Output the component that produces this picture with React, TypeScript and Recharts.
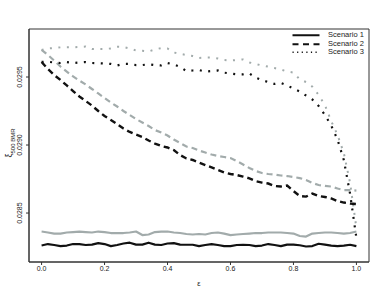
import React from "react";
import { LineChart, Line, XAxis, YAxis, ReferenceArea } from "recharts";

const eps = [0, 0.02, 0.04, 0.06, 0.08, 0.1, 0.12, 0.14, 0.16, 0.18, 0.2, 0.22, 0.24, 0.26, 0.28, 0.3, 0.32, 0.34, 0.36, 0.38, 0.4, 0.42, 0.44, 0.46, 0.48, 0.5, 0.52, 0.54, 0.56, 0.58, 0.6, 0.62, 0.64, 0.66, 0.68, 0.7, 0.72, 0.74, 0.76, 0.78, 0.8, 0.82, 0.84, 0.86, 0.88, 0.9, 0.92, 0.94, 0.96, 0.98, 1.0];

const s1Black = [0.028261, 0.028272, 0.028265, 0.028257, 0.028261, 0.028272, 0.028272, 0.028265, 0.028268, 0.028279, 0.028272, 0.028257, 0.028265, 0.028276, 0.028282, 0.028268, 0.028268, 0.028282, 0.028268, 0.028265, 0.028276, 0.028279, 0.028268, 0.028267, 0.028267, 0.028257, 0.028265, 0.028272, 0.028265, 0.028257, 0.028257, 0.028265, 0.028267, 0.028265, 0.028257, 0.028261, 0.028272, 0.028265, 0.028257, 0.028268, 0.028268, 0.028263, 0.028254, 0.028257, 0.028274, 0.028268, 0.028261, 0.028257, 0.028261, 0.028267, 0.028257];

const s1Gray = [0.028364, 0.028357, 0.028349, 0.028349, 0.028357, 0.02836, 0.028364, 0.02836, 0.028357, 0.028364, 0.02836, 0.028353, 0.028353, 0.028353, 0.028357, 0.028364, 0.028338, 0.028342, 0.02836, 0.028364, 0.028364, 0.028357, 0.028353, 0.028346, 0.028342, 0.028346, 0.028342, 0.028353, 0.028357, 0.028349, 0.028338, 0.028342, 0.028346, 0.028349, 0.028353, 0.028353, 0.028357, 0.028357, 0.028357, 0.028353, 0.028349, 0.028331, 0.028327, 0.028349, 0.028353, 0.028357, 0.028357, 0.028353, 0.028349, 0.028353, 0.028364];

const s2Black = [0.02961, 0.029559, 0.029515, 0.029478, 0.029438, 0.029397, 0.029357, 0.029324, 0.02929, 0.02925, 0.029213, 0.029184, 0.029154, 0.029121, 0.029096, 0.029077, 0.029059, 0.029033, 0.029011, 0.028993, 0.028982, 0.028963, 0.028926, 0.028901, 0.02889, 0.028871, 0.028853, 0.028835, 0.028816, 0.028798, 0.028787, 0.028779, 0.028768, 0.028755, 0.028735, 0.028724, 0.028717, 0.028699, 0.028695, 0.028702, 0.028662, 0.028625, 0.028621, 0.028643, 0.028625, 0.028618, 0.028607, 0.028588, 0.028577, 0.02857, 0.028566];

const s2Gray = [0.029699, 0.029662, 0.029621, 0.029577, 0.02954, 0.029504, 0.029474, 0.029445, 0.029412, 0.029379, 0.029346, 0.029313, 0.029283, 0.02925, 0.029221, 0.029191, 0.029165, 0.02914, 0.02911, 0.029092, 0.02907, 0.02904, 0.029015, 0.028989, 0.028978, 0.02896, 0.028945, 0.02893, 0.028919, 0.028912, 0.028904, 0.028882, 0.028857, 0.028831, 0.028809, 0.028794, 0.028787, 0.028783, 0.028776, 0.028772, 0.028765, 0.028757, 0.028743, 0.028721, 0.028706, 0.028699, 0.028695, 0.02868, 0.028669, 0.028669, 0.028665];

const s3Black = [0.029612, 0.029612, 0.029607, 0.029603, 0.02961, 0.029603, 0.029607, 0.02961, 0.029603, 0.029601, 0.029599, 0.029596, 0.029585, 0.029596, 0.029596, 0.029588, 0.029588, 0.029594, 0.029588, 0.029585, 0.029603, 0.029592, 0.029574, 0.029544, 0.029548, 0.029551, 0.02954, 0.029544, 0.029548, 0.029532, 0.029526, 0.02952, 0.02952, 0.029526, 0.029496, 0.029478, 0.029463, 0.029449, 0.029456, 0.029438, 0.029415, 0.029393, 0.029364, 0.029335, 0.029287, 0.029221, 0.029143, 0.02904, 0.02889, 0.02864, 0.028316];

const s3Gray = [0.029699, 0.02971, 0.029713, 0.029718, 0.029718, 0.029718, 0.029721, 0.029724, 0.029706, 0.029706, 0.029706, 0.02971, 0.029723, 0.029721, 0.02971, 0.029695, 0.029693, 0.029688, 0.029702, 0.029713, 0.02971, 0.02968, 0.029671, 0.029662, 0.029654, 0.02964, 0.029643, 0.029643, 0.029636, 0.029625, 0.029621, 0.029625, 0.029629, 0.029607, 0.029596, 0.029585, 0.029576, 0.029566, 0.029555, 0.02954, 0.029533, 0.029482, 0.029463, 0.029429, 0.029368, 0.029294, 0.029176, 0.029074, 0.028941, 0.028721, 0.02839];

const xTicks = [0, 0.2, 0.4, 0.6, 0.8, 1.0];
const yTicks = [0.0285, 0.029, 0.0295];
const legendLabels = ["Scenario 1", "Scenario 2", "Scenario 3"];

const data = eps.map((e, i) => ({
  eps: e,
  s1Black: s1Black[i],
  s1Gray: s1Gray[i],
  s2Black: s2Black[i],
  s2Gray: s2Gray[i],
  s3Black: s3Black[i],
  s3Gray: s3Gray[i],
}));

const FONT = "'Liberation Sans', Arial, Helvetica, sans-serif";
const BLACK = "#111111";
const GRAY = "#a2abab";
const X_DOMAIN: [number, number] = [-0.04, 1.04];
const Y_DOMAIN: [number, number] = [0.02814, 0.029853];

const legendStyles = [
  { dash: undefined, w: 2 },
  { dash: "6 4.5", w: 2 },
  { dash: "1.2 3.4", w: 1.3 },
];

const LegendBox = () => (
  <div style={{ position: "absolute", left: 292, top: 31, fontFamily: FONT, fontSize: 7.5, color: "#222", lineHeight: "8.5px" }}>
    {legendLabels.map((lab, i) => (
      <div key={lab} style={{ display: "flex", alignItems: "center", height: 8.5 }}>
        <svg width={28} height={8.5} style={{ marginRight: 8, display: "block" }}>
          <line x1={0.5} x2={27.5} y1={4.25} y2={4.25} stroke={BLACK} strokeWidth={legendStyles[i].w} strokeDasharray={legendStyles[i].dash} />
        </svg>
        <span>{lab}</span>
      </div>
    ))}
  </div>
);

const YLabel = () => (
  <text transform="translate(12,143) rotate(-90)" textAnchor="middle" fontFamily={FONT} fill="#222">
    <tspan fontSize={9}>ξ</tspan>
    <tspan fontSize={6} dy={2.5}>500 BMR</tspan>
  </text>
);

export default function App() {
  return (
    <div style={{ position: "absolute", left: 0, top: 0, width: 385, height: 298, background: "#fff" }}>
      <LineChart width={385} height={298} data={data} margin={{ top: 29, right: 16, bottom: 0, left: 0 }}>
        <XAxis
          dataKey="eps"
          type="number"
          domain={X_DOMAIN}
          ticks={xTicks}
          allowDataOverflow
          tickFormatter={(v: number) => v.toFixed(1)}
          tickSize={3}
          tickMargin={1}
          height={36}
          axisLine={{ stroke: "#333" }}
          tickLine={{ stroke: "#333" }}
          tick={{ fontSize: 7, fontFamily: FONT, fill: "#222" }}
          label={{ value: "ε", position: "insideBottom", offset: 12, fontSize: 7.5, fontFamily: FONT, fill: "#222" }}
        />
        <YAxis
          type="number"
          domain={Y_DOMAIN}
          ticks={yTicks}
          allowDataOverflow
          width={29}
          tickSize={3}
          axisLine={{ stroke: "#333" }}
          tickLine={{ stroke: "#333" }}
          tickFormatter={(v: number) => v.toFixed(4)}
          tick={(props: any) => (
            <text
              x={props.x - 2}
              y={props.y}
              transform={`rotate(-90, ${props.x - 2}, ${props.y})`}
              textAnchor="middle"
              fontSize={7}
              fontFamily={FONT}
              fill="#222"
            >
              {Number(props.payload.value).toFixed(4)}
            </text>
          )}
          label={{ content: () => <YLabel /> }}
        />
        <ReferenceArea x1={X_DOMAIN[0]} x2={X_DOMAIN[1]} y1={Y_DOMAIN[0]} y2={Y_DOMAIN[1]} fill="none" fillOpacity={0} stroke="#333" strokeWidth={1} ifOverflow="visible" />
        <Line dataKey="s1Gray" stroke={GRAY} strokeWidth={2.2} dot={false} isAnimationActive={false} strokeLinejoin="round" />
        <Line dataKey="s2Gray" stroke={GRAY} strokeWidth={2.2} strokeDasharray="6 4" dot={false} isAnimationActive={false} />
        <Line dataKey="s3Gray" stroke={GRAY} strokeWidth={2} strokeDasharray="2 6.5" dot={false} isAnimationActive={false} />
        <Line dataKey="s1Black" stroke={BLACK} strokeWidth={2.2} dot={false} isAnimationActive={false} strokeLinejoin="round" />
        <Line dataKey="s2Black" stroke={BLACK} strokeWidth={2.4} strokeDasharray="6 4" dot={false} isAnimationActive={false} />
        <Line dataKey="s3Black" stroke={BLACK} strokeWidth={2.2} strokeDasharray="2 6.5" dot={false} isAnimationActive={false} />
      </LineChart>
      <LegendBox />
    </div>
  );
}
